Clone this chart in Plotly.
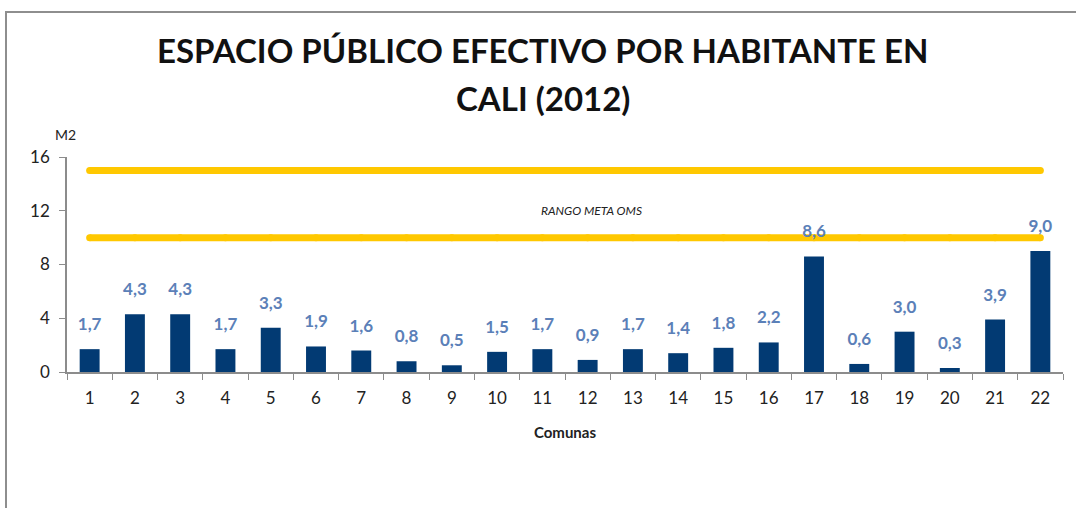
import plotly.graph_objects as go

comunas = [str(i) for i in range(1, 23)]
espacio = [1.7, 4.3, 4.3, 1.7, 3.3, 1.9, 1.6, 0.8, 0.5, 1.5, 1.7, 0.9, 1.7, 1.4, 1.8, 2.2, 8.6, 0.6, 3.0, 0.3, 3.9, 9.0]
meta_alta = [15] * 22
meta_baja = [10] * 22
y_ticks = [0, 4, 8, 12, 16]

W, H = 1076, 508
L, R, T, B = 67, 13, 157, 136
pw, ph = W - L - R, H - T - B

fig = go.Figure()
for vals in (meta_alta, meta_baja):
    fig.add_trace(go.Scatter(x=comunas, y=vals, mode="lines+markers",
                             line=dict(color="#FFC800", width=7),
                             marker=dict(color="#FFC800", size=7),
                             hoverinfo="skip", showlegend=False))
fig.add_trace(go.Bar(x=comunas, y=espacio, marker=dict(color="#023A73", line=dict(width=0)),
                     width=0.44, showlegend=False))
fig.add_trace(go.Scatter(x=comunas, y=espacio, mode="markers+text", text=espacio,
                         texttemplate="<b>%{y:.1f}</b>", textposition="top center",
                         marker=dict(size=22, opacity=0),
                         textfont=dict(family="Lato, Carlito, sans-serif", size=17, color="#5B80B8"),
                         cliponaxis=False, hoverinfo="skip", showlegend=False))

def px_x(p):
    return (p - L) / pw

def px_y(p):
    return (H - B - p) / ph

fig.update_layout(
    width=W, height=H, margin=dict(l=L, r=R, t=T, b=B),
    paper_bgcolor="white", plot_bgcolor="white",
    separators=",.",
    font=dict(family="Lato, Carlito, sans-serif", color="#222222"),
    xaxis=dict(type="category", range=[-0.5, 21.5], autorange=False, tickson="boundaries",
               ticks="outside", ticklen=6, ticklabelstandoff=10,
               tickcolor="#8C8C8C", showline=True, linecolor="#8C8C8C", linewidth=1.5,
               showgrid=False, tickfont=dict(size=17, color="#222222"),
               title=dict(text="<b>Comunas</b>", font=dict(size=15, color="#222222"), standoff=20)),
    yaxis=dict(range=[0, 16], autorange=False, tickvals=y_ticks, ticks="outside", ticklen=6,
               ticklabelstandoff=6, tickcolor="#8C8C8C",
               showline=True, linecolor="#8C8C8C", linewidth=1.5, showgrid=False, zeroline=False,
               tickfont=dict(size=17, color="#222222")),
    bargap=0.56,
    annotations=[
        dict(text="<b>ESPACIO PÚBLICO EFECTIVO POR HABITANTE EN</b>", xref="paper", yref="paper",
             x=px_x(543), y=px_y(50), showarrow=False, xanchor="center", yanchor="middle",
             font=dict(family="Lato, sans-serif", size=33, color="#111111")),
        dict(text="<b>CALI (2012)</b>", xref="paper", yref="paper",
             x=px_x(543), y=px_y(98), showarrow=False, xanchor="center", yanchor="middle",
             font=dict(family="Lato, sans-serif", size=33, color="#111111")),
        dict(text="M2", xref="paper", yref="paper", x=px_x(65), y=px_y(134), showarrow=False,
             xanchor="center", yanchor="middle", font=dict(size=14, color="#222222")),
        dict(text="<i>RANGO META OMS</i>", xref="paper", yref="paper", x=px_x(591), y=px_y(210),
             showarrow=False, xanchor="center", yanchor="middle", font=dict(size=12, color="#222222")),
    ],
    shapes=[
        dict(type="line", xref="paper", yref="paper", x0=px_x(6), x1=px_x(6), y0=px_y(11), y1=px_y(520),
             line=dict(color="#8E8E8E", width=2)),
        dict(type="line", xref="paper", yref="paper", x0=px_x(5), x1=px_x(1090), y0=px_y(12), y1=px_y(12),
             line=dict(color="#8E8E8E", width=2)),
    ],
)

fig.write_html("out.html", config={"displayModeBar": False},
               post_script="document.body.style.margin='0';")
